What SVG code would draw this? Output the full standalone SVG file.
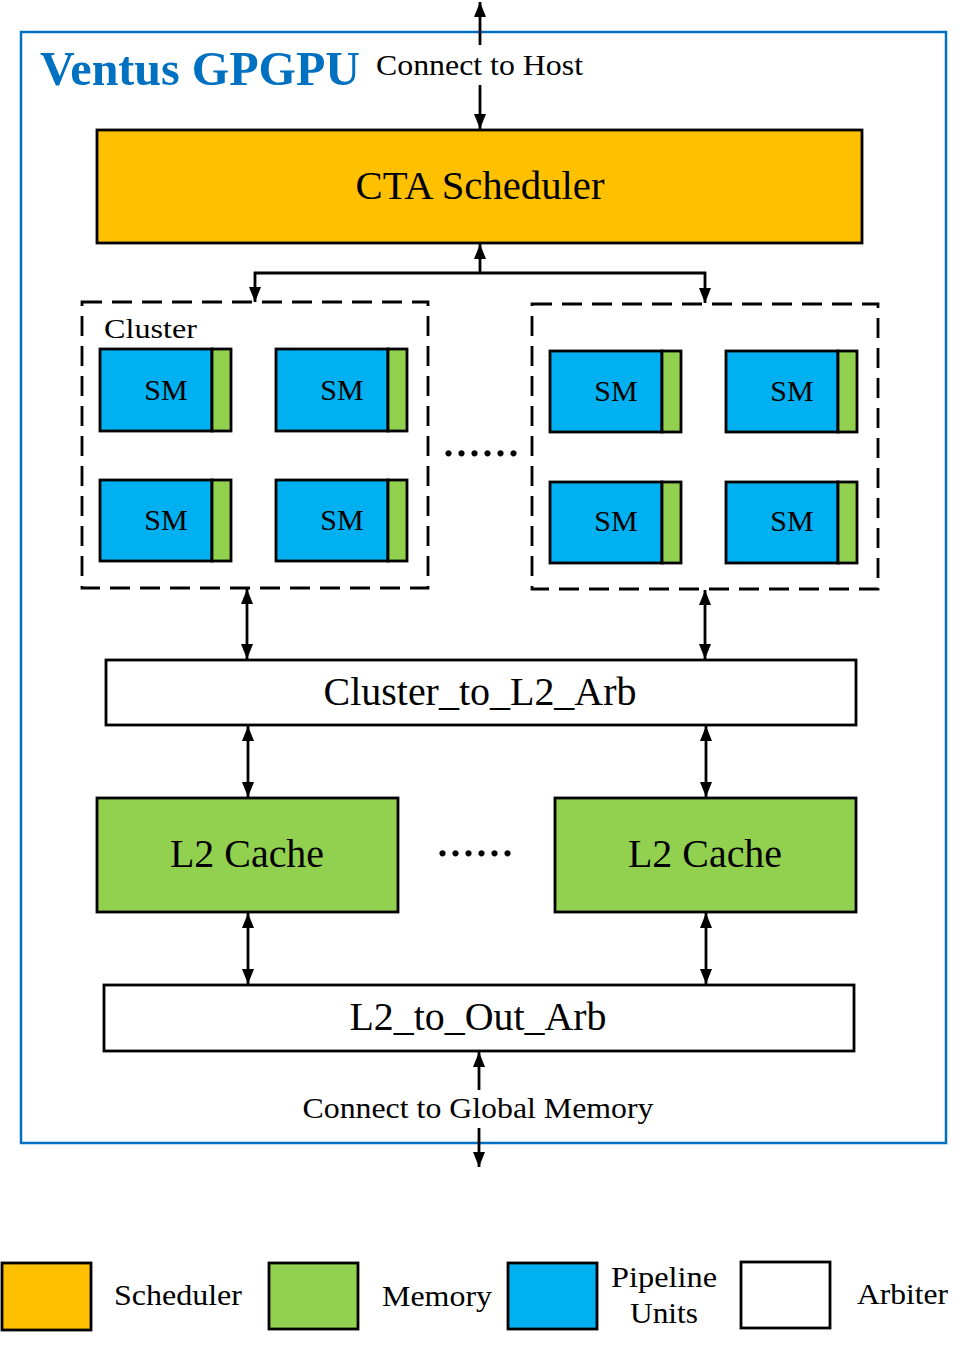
<svg xmlns="http://www.w3.org/2000/svg" width="964" height="1349" viewBox="0 0 964 1349">
<defs>
<marker id="ah" viewBox="0 0 15 12" refX="15" refY="6" markerWidth="15" markerHeight="12" markerUnits="userSpaceOnUse" orient="auto-start-reverse">
<path d="M0,0 L15,6 L0,12 z" fill="#000"/>
</marker>
<style>
text{font-family:"Liberation Serif","Times New Roman",serif;fill:#000}
.box{stroke:#000;stroke-width:2.8}
.sched{fill:#FFC000}
.mem{fill:#92D050}
.pipe{fill:#00B0F0}
.arb{fill:#fff}
.dash{fill:none;stroke:#000;stroke-width:2.8;stroke-dasharray:20 10}
.conn{fill:none;stroke:#000;stroke-width:2.8}
.sm{font-size:30px;text-anchor:middle}
.big{font-size:40px;text-anchor:middle}
.lab{font-size:30px}
.dots{font-size:52px;text-anchor:middle}
</style>
</defs>
<rect width="964" height="1349" fill="#fff"/>
<g id="frame">
<rect x="21" y="32" width="925" height="1111" fill="none" stroke="#0070C0" stroke-width="2.5"/>
<text x="40" y="85" font-size="48" font-weight="bold" style="fill:#0070C0" textLength="320" lengthAdjust="spacingAndGlyphs">Ventus GPGPU</text>
<text x="376" y="75" class="lab" textLength="207" lengthAdjust="spacingAndGlyphs">Connect to Host</text>
<text x="478" y="1118" class="lab" text-anchor="middle" textLength="351" lengthAdjust="spacingAndGlyphs">Connect to Global Memory</text>
</g>
<g id="cta">
<rect class="box sched" x="97" y="130" width="765" height="113"/>
<text class="big" x="480" y="199" textLength="249" lengthAdjust="spacingAndGlyphs">CTA Scheduler</text>
</g>
<g id="cluster1">
<rect class="dash" x="82" y="302" width="346" height="286"/>
<text x="104" y="338" font-size="28" textLength="93" lengthAdjust="spacingAndGlyphs">Cluster</text>
<g id="sm1"><rect class="box pipe" x="100" y="349" width="112" height="82"/><rect class="box mem" x="212" y="349" width="19" height="82"/><text class="sm" x="166" y="400">SM</text></g>
<g id="sm2"><rect class="box pipe" x="276" y="349" width="112" height="82"/><rect class="box mem" x="388" y="349" width="19" height="82"/><text class="sm" x="342" y="400">SM</text></g>
<g id="sm3"><rect class="box pipe" x="100" y="480" width="112" height="81"/><rect class="box mem" x="212" y="480" width="19" height="81"/><text class="sm" x="166" y="530">SM</text></g>
<g id="sm4"><rect class="box pipe" x="276" y="480" width="112" height="81"/><rect class="box mem" x="388" y="480" width="19" height="81"/><text class="sm" x="342" y="530">SM</text></g>
</g>
<g id="cluster2">
<rect class="dash" x="532" y="304" width="346" height="285"/>
<g id="sm5"><rect class="box pipe" x="550" y="351" width="112" height="81"/><rect class="box mem" x="662" y="351" width="19" height="81"/><text class="sm" x="616" y="401">SM</text></g>
<g id="sm6"><rect class="box pipe" x="726" y="351" width="112" height="81"/><rect class="box mem" x="838" y="351" width="19" height="81"/><text class="sm" x="792" y="401">SM</text></g>
<g id="sm7"><rect class="box pipe" x="550" y="482" width="112" height="81"/><rect class="box mem" x="662" y="482" width="19" height="81"/><text class="sm" x="616" y="531">SM</text></g>
<g id="sm8"><rect class="box pipe" x="726" y="482" width="112" height="81"/><rect class="box mem" x="838" y="482" width="19" height="81"/><text class="sm" x="792" y="531">SM</text></g>
</g>
<g id="dots1"><text class="dots" x="481" y="456">......</text></g>
<g id="arb1">
<rect class="box arb" x="106" y="660" width="750" height="65"/>
<text class="big" x="480" y="705" textLength="313" lengthAdjust="spacingAndGlyphs">Cluster_to_L2_Arb</text>
</g>
<g id="l2a">
<rect class="box mem" x="97" y="798" width="301" height="114"/>
<text class="big" x="247" y="867" textLength="154" lengthAdjust="spacingAndGlyphs">L2 Cache</text>
</g>
<g id="dots2"><text class="dots" x="475" y="856">......</text></g>
<g id="l2b">
<rect class="box mem" x="555" y="798" width="301" height="114"/>
<text class="big" x="705" y="867" textLength="154" lengthAdjust="spacingAndGlyphs">L2 Cache</text>
</g>
<g id="arb2">
<rect class="box arb" x="104" y="985" width="750" height="66"/>
<text class="big" x="478" y="1030" textLength="257" lengthAdjust="spacingAndGlyphs">L2_to_Out_Arb</text>
</g>
<g id="connectors">
<line class="conn" x1="480" y1="45" x2="480" y2="2" marker-end="url(#ah)"/>
<line class="conn" x1="480" y1="85" x2="480" y2="129" marker-end="url(#ah)"/>
<line class="conn" x1="480" y1="273" x2="480" y2="244" marker-end="url(#ah)"/>
<polyline class="conn" points="255,302 255,273 705,273 705,303" marker-start="url(#ah)" marker-end="url(#ah)"/>
<line class="conn" x1="247" y1="589" x2="247" y2="659" marker-start="url(#ah)" marker-end="url(#ah)"/>
<line class="conn" x1="705" y1="590" x2="705" y2="659" marker-start="url(#ah)" marker-end="url(#ah)"/>
<line class="conn" x1="248" y1="726" x2="248" y2="797" marker-start="url(#ah)" marker-end="url(#ah)"/>
<line class="conn" x1="706" y1="726" x2="706" y2="797" marker-start="url(#ah)" marker-end="url(#ah)"/>
<line class="conn" x1="248" y1="913" x2="248" y2="984" marker-start="url(#ah)" marker-end="url(#ah)"/>
<line class="conn" x1="706" y1="913" x2="706" y2="984" marker-start="url(#ah)" marker-end="url(#ah)"/>
<line class="conn" x1="479" y1="1090" x2="479" y2="1052" marker-end="url(#ah)"/>
<line class="conn" x1="479" y1="1128" x2="479" y2="1167" marker-end="url(#ah)"/>
</g>
<g id="legend">
<rect class="box sched" x="2" y="1263" width="89" height="67"/>
<text class="lab" x="114" y="1305" textLength="128" lengthAdjust="spacingAndGlyphs">Scheduler</text>
<rect class="box mem" x="269" y="1263" width="89" height="66"/>
<text class="lab" x="382" y="1306" textLength="110" lengthAdjust="spacingAndGlyphs">Memory</text>
<rect class="box pipe" x="508" y="1263" width="89" height="66"/>
<text class="lab" x="611" y="1287" textLength="106" lengthAdjust="spacingAndGlyphs">Pipeline</text>
<text class="lab" x="630" y="1323" textLength="68" lengthAdjust="spacingAndGlyphs">Units</text>
<rect class="box arb" x="741" y="1262" width="89" height="66"/>
<text class="lab" x="857" y="1304" textLength="91" lengthAdjust="spacingAndGlyphs">Arbiter</text>
</g>
</svg>
